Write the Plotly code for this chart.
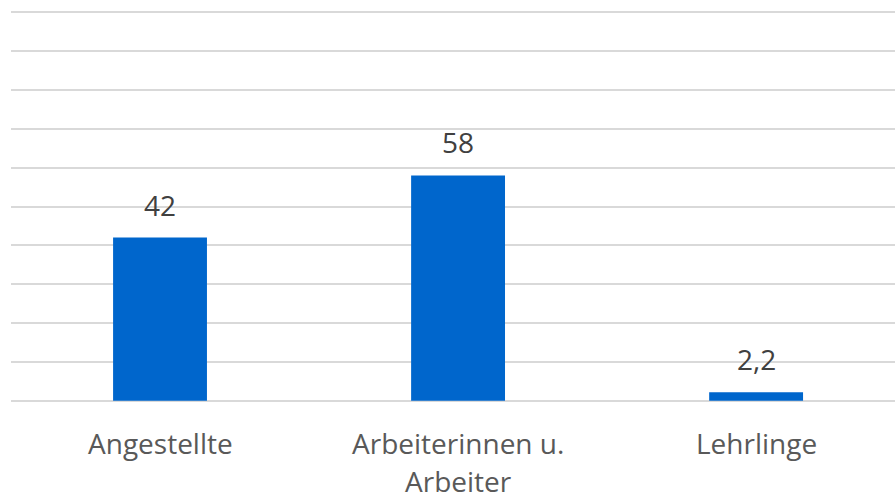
import plotly.graph_objects as go

categories = ["Angestellte", "Arbeiterinnen u. Arbeiter", "Lehrlinge"]
label_lines = [["Angestellte"], ["Arbeiterinnen u.", "Arbeiter"], ["Lehrlinge"]]
values = [42, 58, 2.2]

BAR_COLOR = "#0066CC"
FONT = "Open Sans"
GRID = "#d9d9d9"

fig = go.Figure()
fig.add_trace(go.Bar(
    x=categories,
    y=values,
    width=0.315,
    marker=dict(color=BAR_COLOR, line=dict(width=0)),
    hoverinfo="skip",
))

annotations = []
for cat, v in zip(categories, values):
    txt = f"{v:g}".replace(".", ",")
    annotations.append(dict(
        x=cat, y=v, xref="x", yref="y", text=txt, showarrow=False,
        yanchor="bottom", yshift=12,
        font=dict(family=FONT, size=28, color="#404040"),
    ))
for cat, lines in zip(categories, label_lines):
    for i, line in enumerate(lines):
        annotations.append(dict(
            x=cat, y=0, xref="x", yref="y", text=line, showarrow=False,
            yanchor="middle", yshift=-42 - 38 * i,
            font=dict(family=FONT, size=28, color="#595959"),
        ))

fig.update_layout(
    width=895, height=494,
    margin=dict(l=11, r=0, t=11, b=92),
    paper_bgcolor="white", plot_bgcolor="white",
    showlegend=False,
    separators=",.",
    annotations=annotations,
    xaxis=dict(
        type="category",
        range=[-0.5, 2.466],
        showticklabels=False, showgrid=False, zeroline=False, showline=False,
        ticks="",
    ),
    yaxis=dict(
        range=[-0.3, 100.3], dtick=10, tick0=0,
        showticklabels=False, showgrid=True, gridcolor=GRID, gridwidth=2,
        zeroline=True, zerolinecolor=GRID, zerolinewidth=2,
        showline=False, ticks="",
    ),
)

fig.write_html("out.html")
